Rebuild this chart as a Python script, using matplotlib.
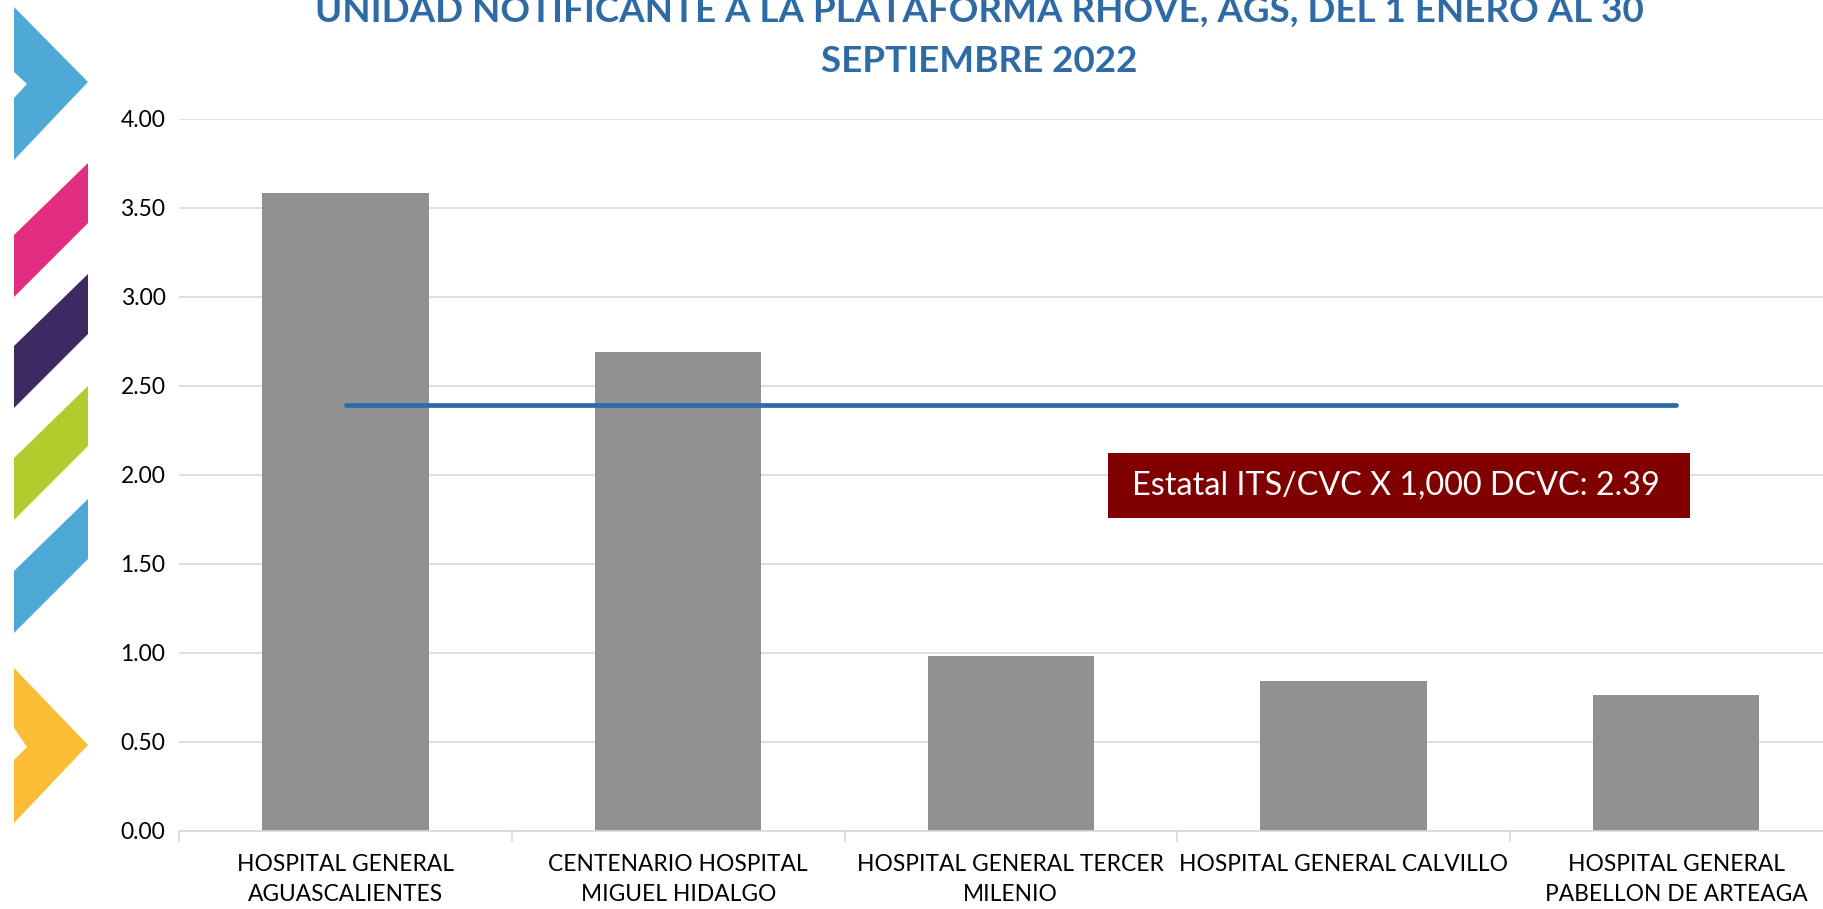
import matplotlib
matplotlib.use("Agg")
import matplotlib.pyplot as plt
from matplotlib.patches import Polygon, Rectangle

# ---- data ----
categories = [
    "HOSPITAL GENERAL\nAGUASCALIENTES",
    "CENTENARIO HOSPITAL\nMIGUEL HIDALGO",
    "HOSPITAL GENERAL TERCER\nMILENIO",
    "HOSPITAL GENERAL CALVILLO",
    "HOSPITAL GENERAL\nPABELLON DE ARTEAGA",
]
values = [3.58, 2.69, 0.98, 0.84, 0.76]
state_rate = 2.39
yticks = [0.0, 0.5, 1.0, 1.5, 2.0, 2.5, 3.0, 3.5, 4.0]
title_lines = ["UNIDAD NOTIFICANTE A LA PLATAFORMA RHOVE, AGS, DEL 1 ENERO AL 30",
               "SEPTIEMBRE 2022"]
box_label = "Estatal ITS/CVC X 1,000 DCVC: 2.39"

W, H = 1824, 909
FONT = "Lato"

fig = plt.figure(figsize=(W / 100, H / 100), dpi=100)
fig.patch.set_facecolor("white")


def fx(x):
    return x / W


def fy(y):
    return 1 - y / H


# ---- decorative chevrons on the left ----
def pix_poly(pts, color):
    p = Polygon([(fx(x), fy(y)) for x, y in pts], closed=True,
                transform=fig.transFigure, facecolor=color, edgecolor="none")
    fig.patches.append(p)


L, R = 14, 88
# top blue chevron
pix_poly([(L, 7), (R, 82), (L, 160), (L, 98), (27, 84), (L, 72)], "#4EA9D6")
# parallelograms
for top, col in [(163, "#E22D80"), (274, "#3E2A63"), (386, "#B3CB2D"), (499, "#4DA8D6")]:
    pix_poly([(L, top + 72), (R, top), (R, top + 60), (L, top + 134)], col)
# bottom yellow chevron
pix_poly([(L, 668), (R, 745), (L, 823), (L, 760), (27, 747), (L, 728)], "#FBBD35")

# ---- axes ----
left, right_px = 179.3, 179.3 + 5 * 332.6
top_px, bot_px = 118.7, 830.7
ax = fig.add_axes([fx(left), fy(bot_px), (right_px - left) / W, (bot_px - top_px) / H])
ax.set_facecolor("none")

x = list(range(len(categories)))
ax.bar(x, values, width=0.5, color="#919191", zorder=2)
ax.plot([x[0], x[-1]], [state_rate, state_rate], color="#2E6BA5",
        lw=3.4, solid_capstyle="round", zorder=3)

ax.set_xlim(-0.5, len(categories) - 0.5)
ax.set_ylim(0, 4)
ax.set_yticks(yticks)
ax.set_yticklabels([f"{v:.2f}" for v in yticks], fontsize=16.5, family=FONT, color="#000000")
ax.yaxis.grid(True, color="#D9D9D9", lw=1.2, zorder=0)
ax.set_axisbelow(True)

ax.set_xticks(x)
ax.set_xticklabels(categories, fontsize=16.4, family=FONT, color="#000000", linespacing=1.5)
ax.set_xticks([i - 0.5 for i in range(len(categories) + 1)], minor=True)
ax.tick_params(axis="x", which="major", length=0, pad=17)
ax.tick_params(axis="x", which="minor", length=8, color="#D9D9D9", width=1.2)
ax.tick_params(axis="y", length=0, pad=10)

for s in ["top", "right", "left"]:
    ax.spines[s].set_visible(False)
ax.spines["bottom"].set_color("#D9D9D9")
ax.spines["bottom"].set_linewidth(1.2)

# ---- title ----
fig.text(fx(979), fy(11.6), title_lines[0], ha="center", va="center",
         fontsize=26.5, fontweight="bold", family=FONT, color="#2E6BA5")
fig.text(fx(979), fy(61.5), title_lines[1], ha="center", va="center",
         fontsize=26.5, fontweight="bold", family=FONT, color="#2E6BA5")

# ---- state-rate label box ----
fig.patches.append(Rectangle((fx(1108.5), fy(517.6)), (1690 - 1108.5) / W, (517.6 - 452.5) / H,
                             transform=fig.transFigure, facecolor="#800000", edgecolor="none"))
fig.text(fx(1131.6), fy(486), box_label, ha="left", va="center",
         fontsize=23.3, family=FONT, color="white")

fig.savefig("out.png", dpi=100, facecolor="white")
